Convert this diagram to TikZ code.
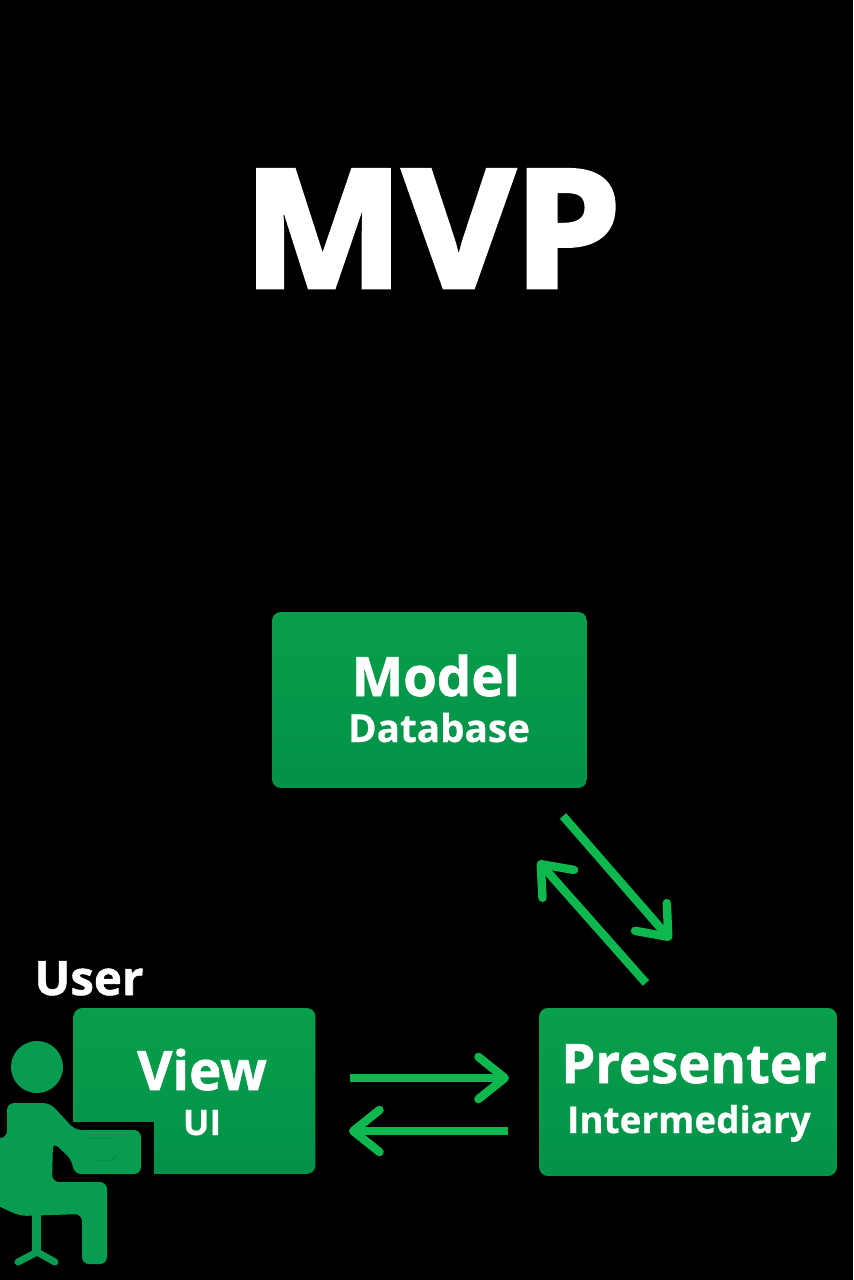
\documentclass[tikz,border=0pt]{standalone}
\usepackage{fontspec}
\setmainfont{Open Sans}
\newfontfamily\heavyfont[FakeBold=3]{Open Sans Bold}
\newfontfamily\labelfont[FakeBold=1.1]{Open Sans Bold}
\newfontfamily\subfont[FakeBold=0.5]{Open Sans Bold}
\usetikzlibrary{arrows.meta}
\definecolor{boxtop}{HTML}{089E4C}
\definecolor{boxbot}{HTML}{029248}
\definecolor{arrowgreen}{HTML}{0DB94F}
\definecolor{mangreen}{HTML}{089C50}
\tikzset{
    box/.style={rounded corners=5pt, top color=boxtop, bottom color=boxbot, draw=none, inner sep=0pt, outer sep=0pt},
    flow/.style={draw=arrowgreen, line width=4.8pt, -{Straight Barb[length=15pt, width=24pt, line cap=round, round]}},
    title/.style={text=white, font=\labelfont, anchor=base, inner sep=0pt},
    subtitle/.style={text=white, font=\subfont, anchor=base, inner sep=0pt}
}
\begin{document}
\begin{tikzpicture}[x=0.02cm, y=-0.02cm]
    \useasboundingbox (0,0) rectangle (853,1280);
    \fill[black] (0,0) rectangle (853,1280);

    \node[title, font=\heavyfont, xscale=1.04] (mvp) at (432,287) {\fontsize{93}{93}\selectfont MVP};

    % boxes
    \node[box, minimum width=6.3cm, minimum height=3.52cm] (model) at (429.5,700) {};
    \node[box, minimum width=4.84cm, minimum height=3.32cm] (view) at (194.5,1091) {};
    \node[box, minimum width=5.96cm, minimum height=3.36cm] (presenter) at (688,1092) {};

    \node[title] (modeltext) at (436,696) {\fontsize{31}{31}\selectfont Model};
    \node[subtitle] (modelsub) at (439,742) {\fontsize{22}{22}\selectfont Database};
    \node[title] (viewtext) at (202,1090) {\fontsize{31}{31}\selectfont View};
    \node[subtitle] (viewsub) at (202,1135) {\fontsize{20}{20}\selectfont UI};
    \node[title] (presentertext) at (694,1083) {\fontsize{31}{31}\selectfont Presenter};
    \node[subtitle] (presentersub) at (689,1133) {\fontsize{21}{21}\selectfont Intermediary};
    \node[title] (user) at (89,995) {\fontsize{27}{27}\selectfont User};

    % arrows
    \coordinate (a1) at (563,816);
    \coordinate (a2) at (671,940);
    \coordinate (b1) at (646,983);
    \coordinate (b2) at (538,861);
    \coordinate (c1) at (350,1078);
    \coordinate (c2) at (509,1078);
    \coordinate (d1) at (508,1131);
    \coordinate (d2) at (349,1131);
    \draw[flow] (a1) -- (a2);
    \draw[flow] (b1) -- (b2);
    \draw[flow] (c1) -- (c2);
    \draw[flow] (d1) -- (d2);

    % user at the desk
    \fill[black] (73,1122) rectangle (154,1176);
    \fill[mangreen] (37,1067) circle (26);
    \fill[mangreen, rounded corners=4pt]
        (-6,1138) -- (7,1138) -- (7,1103) -- (50,1103) -- (75,1130) -- (141,1130) -- (141,1174)
        -- (74,1174) -- (72,1160) -- (53,1142) -- (52,1182) -- (107,1182) -- (107,1264)
        -- (82,1264) -- (82,1214) -- (20,1216) -- (-6,1204) -- cycle;
    \fill[mangreen] (32,1212) rectangle (41,1252);
    \draw[mangreen, line width=4pt, line cap=round, line join=round] (18,1262) -- (37,1252) -- (55,1262);
    \draw[boxtop!80!black, line width=0.3pt] (88,1138) -- (112,1138) (92,1160) -- (112,1160) -- (117,1155);
\end{tikzpicture}
\end{document}
